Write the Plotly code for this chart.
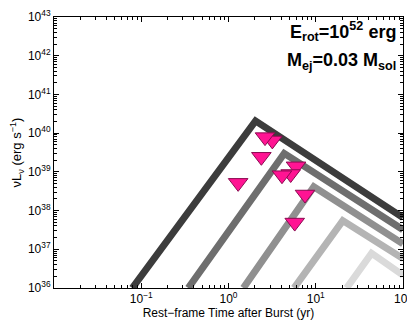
import plotly.graph_objects as go

# model curves: rise / peak / decay
curve_times = [
    [0.079, 2.04, 100],
    [0.346, 4.35, 100],
    [1.48, 9.5, 100],
    [5.64, 20.4, 100],
    [22.6, 43.6, 100],
]
curve_lum = [
    [1e36, 2.07e40, 6.6e37],
    [1e36, 3.0e39, 3.2e37],
    [1e36, 4.1e38, 1.38e37],
    [1e36, 5.5e37, 5.75e36],
    [1e36, 7.9e36, 2.14e36],
]
curve_colors = ['#3c3c3c', '#6e6e6e', '#909090', '#b4b4b4', '#dadada']

# upper limits (drawn back to front)
lim_t = [3.18, 2.62, 2.38, 1.29, 5.94, 5.16, 4.10, 7.53, 5.74]
lim_lum = [6.5e39, 7.9e39, 2.45e39, 5.2e38, 1.39e39, 8.8e38, 8.2e38, 2.6e38, 4.9e37]

x_ticks = [0.1, 1, 10, 100]
x_labels = ['10<sup>\u22121</sup>', '10<sup>0</sup>', '10<sup>1</sup>', '10<sup>2</sup>']
y_ticks = [1e36, 1e37, 1e38, 1e39, 1e40, 1e41, 1e42, 1e43]
y_labels = ['10<sup>%d</sup>' % e for e in range(36, 44)]

# minor ticks at 2..9 of every decade
x_minor = [m * 10.0 ** e for e in range(-2, 2) for m in range(2, 10)]
y_minor = [m * 10.0 ** e for e in range(36, 43) for m in range(2, 10)]

fig = go.Figure()

for t, lum, col in zip(curve_times, curve_lum, curve_colors):
    fig.add_trace(go.Scatter(x=t, y=lum, mode='lines',
                             line=dict(color=col, width=7),
                             showlegend=False, hoverinfo='skip'))

fig.add_trace(go.Scatter(x=lim_t, y=lim_lum, mode='markers',
                         marker=dict(symbol='triangle-down', size=17, color='#ff1493',
                                     line=dict(color='#8b0a50', width=1)),
                         showlegend=False))

axis_style = dict(type='log', showgrid=False, zeroline=False, automargin=False,
                  showline=True, linecolor='black', linewidth=1, mirror='allticks',
                  ticks='inside', ticklen=5, tickcolor='black', ticklabeloverflow='allow',
                  tickfont=dict(family='Liberation Sans, Arial', size=12, color='black'))

fig.update_xaxes(**axis_style, range=[-2, 2], tickvals=x_ticks, ticktext=x_labels,
                 minor=dict(tickvals=x_minor, ticks='inside', ticklen=3,
                            tickcolor='black', showgrid=False),
                 title=dict(text='Rest\u2212frame Time after Burst (yr)', standoff=0,
                            font=dict(family='Liberation Sans, Arial', size=12, color='black')))
fig.update_yaxes(**axis_style, range=[36, 43], tickvals=y_ticks, ticktext=y_labels,
                 minor=dict(tickvals=y_minor, ticks='inside', ticklen=3,
                            tickcolor='black', showgrid=False),
                 title=dict(text='\u03bdL<sub>\u03bd</sub> (erg s<sup>\u22121</sup>)', standoff=6,
                            font=dict(family='Liberation Sans, Arial', size=13, color='black')))

fig.add_annotation(text='<b>E<sub>rot</sub>=10<sup>52</sup> erg</b>',
                   xref='paper', yref='paper', x=0.986, y=0.947,
                   xanchor='right', yanchor='middle', showarrow=False,
                   font=dict(family='Liberation Sans, Arial', size=18, color='black'))
fig.add_annotation(text='<b>M<sub>ej</sub>=0.03 M<sub>sol</sub></b>',
                   xref='paper', yref='paper', x=0.986, y=0.834,
                   xanchor='right', yanchor='middle', showarrow=False,
                   font=dict(family='Liberation Sans, Arial', size=18, color='black'))

# page body adds an 8px margin, so the figure is sized to fit inside the window
fig.update_layout(width=407, height=316,
                  margin=dict(l=46, r=12, t=9, b=36),
                  paper_bgcolor='white', plot_bgcolor='white')

fig.write_html("out.html")
